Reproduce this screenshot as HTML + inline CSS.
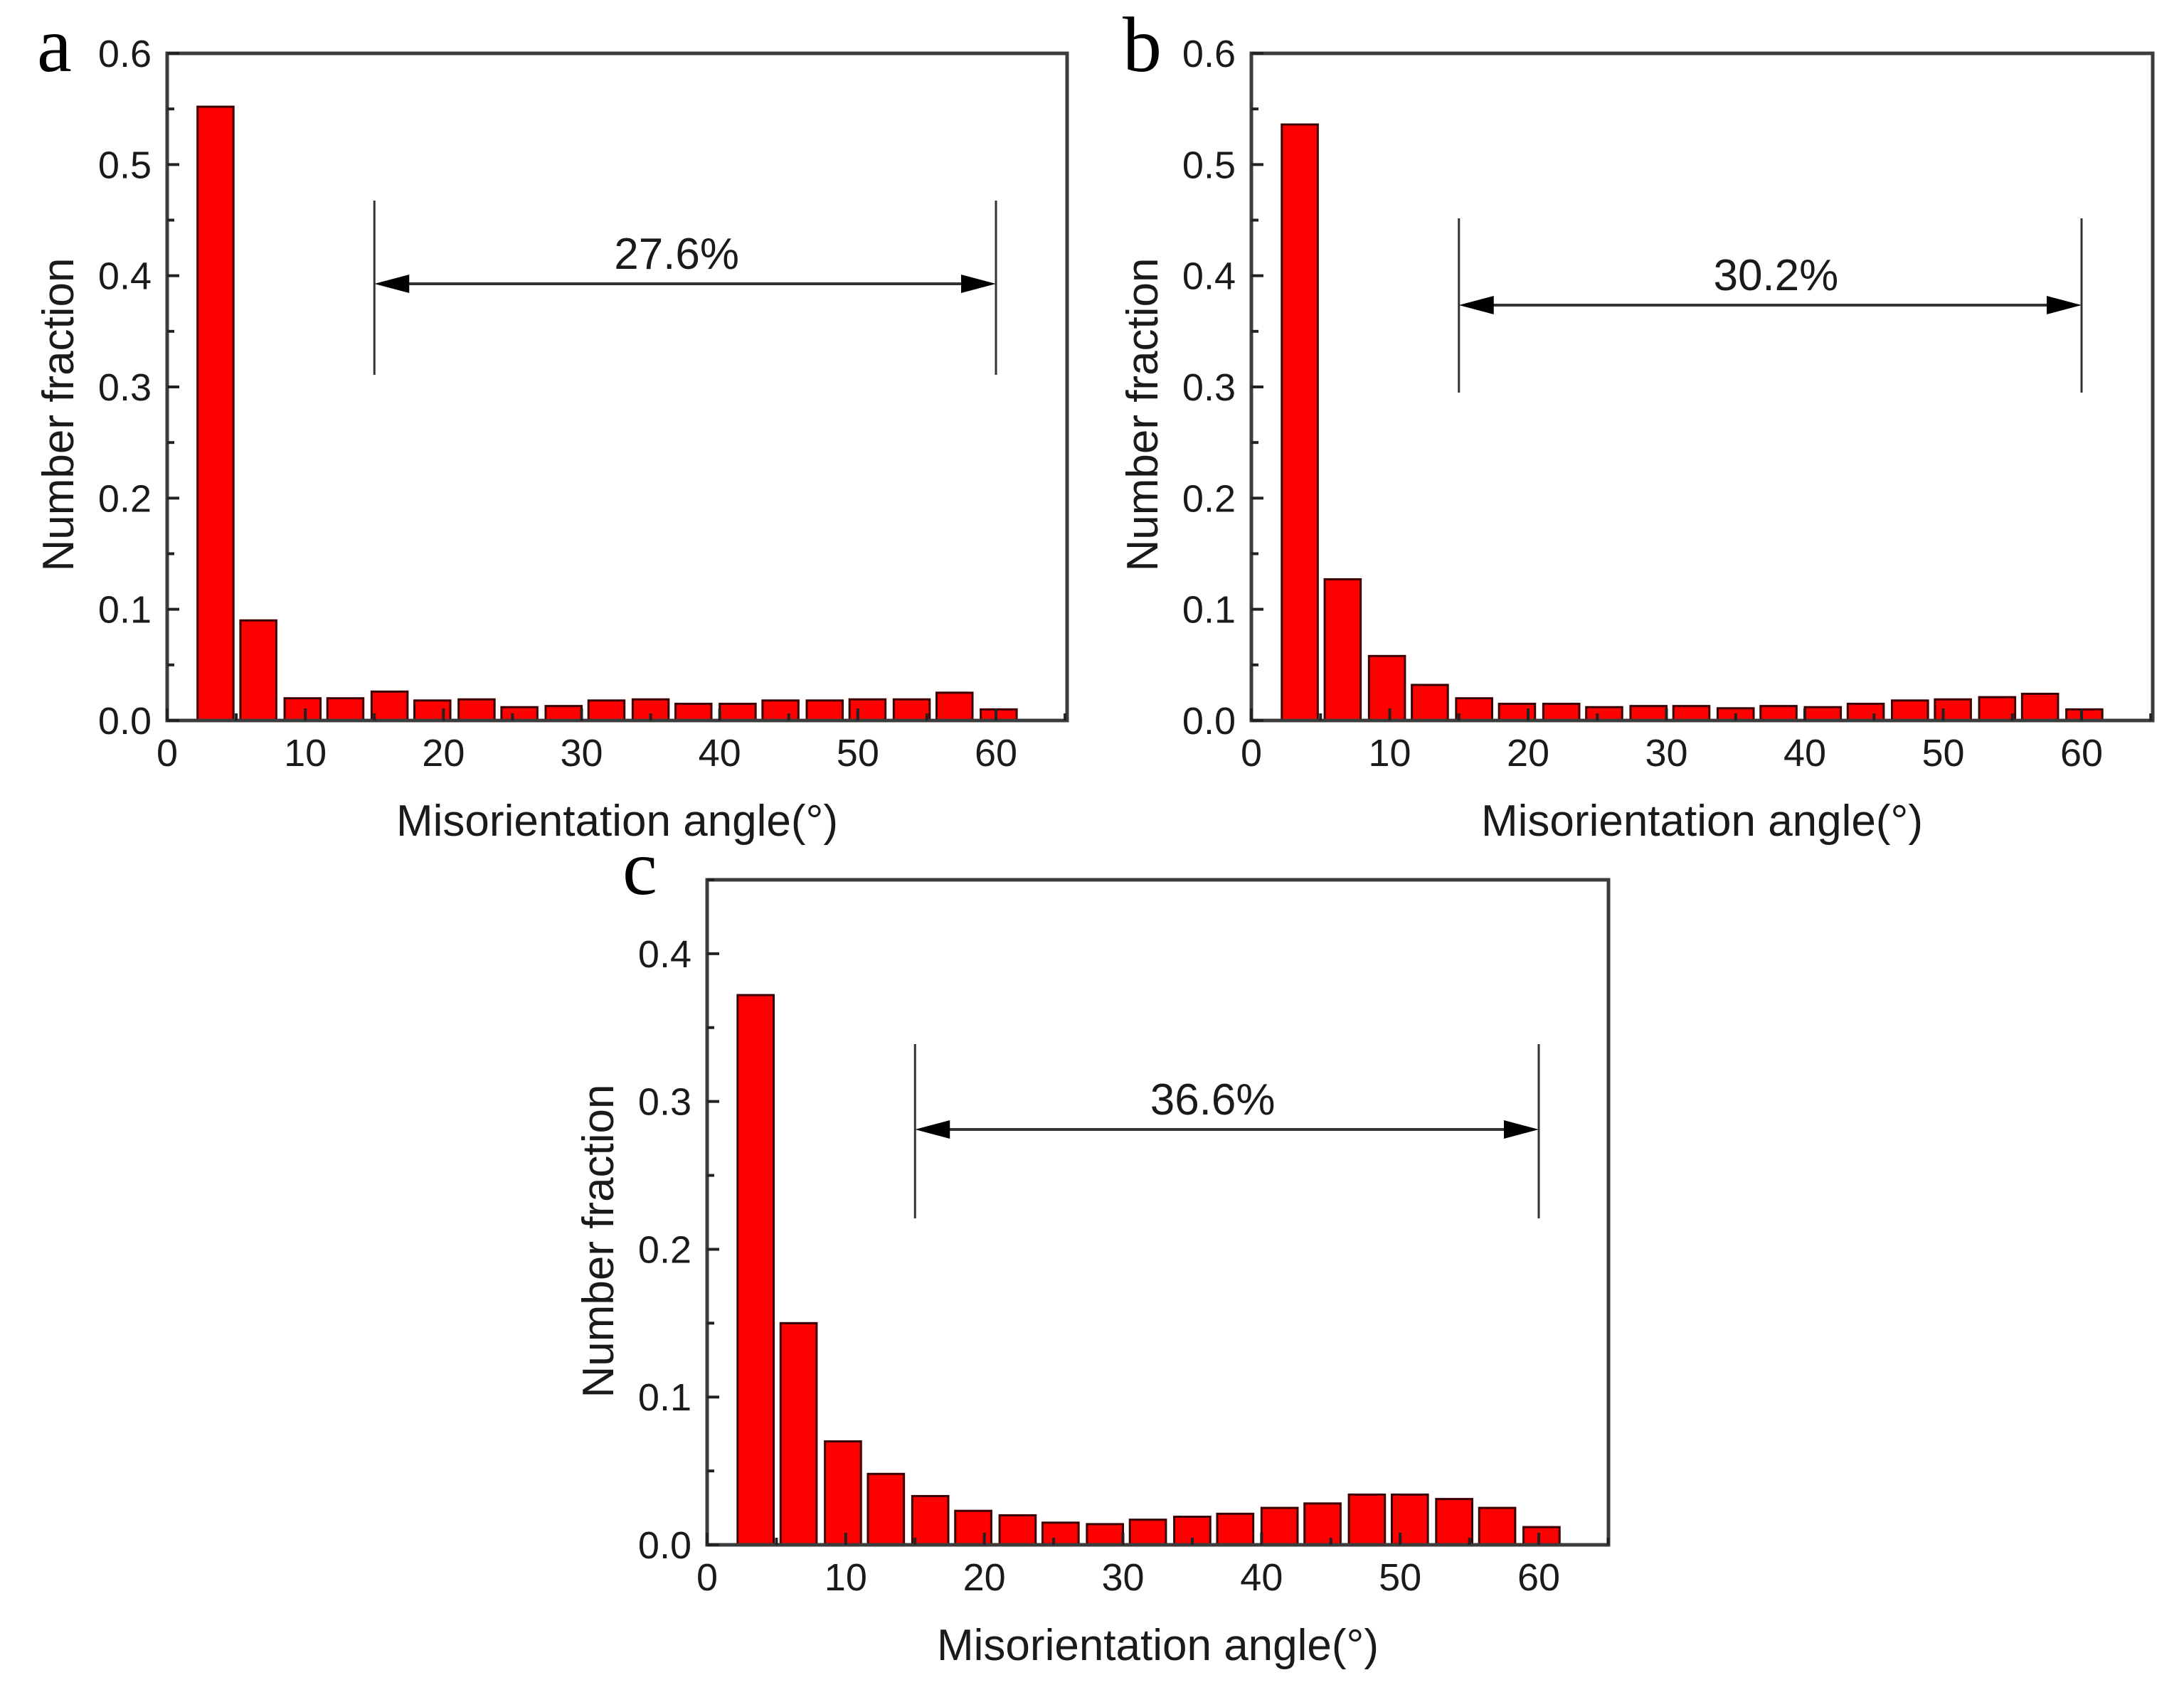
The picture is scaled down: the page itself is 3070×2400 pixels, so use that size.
<!DOCTYPE html>
<html><head><meta charset="utf-8">
<style>
html,body{margin:0;padding:0;background:#fff;}
svg{display:block;}
text{font-family:"Liberation Sans",Arial,sans-serif;fill:#1a1a1a;}
.pl{font-family:"Liberation Serif","Times New Roman",serif;fill:#000;}
</style></head>
<body>
<svg id="fig" width="3070" height="2400" viewBox="0 0 3070 2400" xmlns="http://www.w3.org/2000/svg"></svg>
<script>
const angles = [3.5,6.6,9.8,12.9,16.1,19.2,22.4,25.5,28.7,31.8,35,38.1,41.3,44.4,47.6,50.7,53.9,57,60.2];
const valuesA = [0.552,0.090,0.020,0.020,0.026,0.018,0.019,0.012,0.013,0.018,0.019,0.015,0.015,0.018,0.018,0.019,0.019,0.025,0.010];
const valuesB = [0.536,0.127,0.058,0.032,0.020,0.015,0.015,0.012,0.013,0.013,0.011,0.013,0.012,0.015,0.018,0.019,0.021,0.024,0.010];
const valuesC = [0.372,0.150,0.070,0.048,0.033,0.023,0.020,0.015,0.014,0.017,0.019,0.021,0.025,0.028,0.034,0.034,0.031,0.025,0.012];
const xTicks = [0,10,20,30,40,50,60];
const yTicksAB = ["0.0","0.1","0.2","0.3","0.4","0.5","0.6"];
const yTicksC = ["0.0","0.1","0.2","0.3","0.4"];
const rangeLabels = ["27.6%","30.2%","36.6%"];
const rangeStart = 15, rangeEnd = 60;

const NS="http://www.w3.org/2000/svg";
const svg=document.getElementById('fig');
function mk(tag,attrs,parent){const e=document.createElementNS(NS,tag);for(const k in attrs)e.setAttribute(k,attrs[k]);(parent||svg).appendChild(e);return e;}

function panel(p){
  const g=mk('g',{});
  
  
  const X=v=>p.x0+(v-0)*(p.x60-p.x0)/60;
  const Y=v=>p.y0-v*(p.y0-p.yTop)/p.ymax;
  const bw=2.6;
  p.vals.forEach((v,i)=>{
    const r=mk('rect',{x:X(angles[i]-bw/2),y:Y(v),width:X(bw)-X(0),height:p.y0-Y(v),fill:'#ff0000',stroke:'#3a0000','stroke-width':3},g);
    
    
  });
  const fr=mk('rect',{x:p.x0,y:p.yTop,width:p.xR-p.x0,height:p.y0-p.yTop,fill:'none',stroke:'#3c3c3c','stroke-width':5},g);
  
  
  for(let v=0;v<=65;v+=5){
    const len=(v%10===0)?17:10;
    mk('line',{x1:X(v),x2:X(v),y1:p.y0,y2:p.y0-len,stroke:'#222','stroke-width':4},g);
  }
  xTicks.forEach(v=>{
    const t=mk('text',{x:X(v),y:p.y0+64,'text-anchor':'middle','font-size':54},g);
    t.textContent=v;
    
    
  });
  const nHalf=Math.round(p.ymax/0.05);
  for(let k=0;k<=nHalf;k++){
    const v=k*0.05; const len=(k%2===0)?17:10;
    mk('line',{x1:p.x0,x2:p.x0+len,y1:Y(v),y2:Y(v),stroke:'#222','stroke-width':4},g);
  }
  p.yLabels.forEach((s,i)=>{
    const t=mk('text',{x:p.x0-22,y:Y(i*0.1)+19,'text-anchor':'end','font-size':54},g);
    t.textContent=s;
    
    
  });
  const xt=mk('text',{x:(p.x0+p.xR)/2,y:p.y0+162,'text-anchor':'middle','font-size':62},g);
  xt.textContent='Misorientation angle(°)';
  
  
  const yt=mk('text',{x:0,y:0,'text-anchor':'middle','font-size':62,transform:`translate(${p.x0-132},${p.yTitle}) rotate(-90)`},g);
  yt.textContent='Number fraction';
  
  
  const pl=mk('text',{x:p.lx,y:p.ly,'font-size':110,class:'pl'},g);
  pl.textContent=p.id;
  
  
  const a=mk('g',{},g);
  
  
  const xs=X(rangeStart), xe=X(rangeEnd);
  mk('line',{x1:xs,x2:xs,y1:p.aTop,y2:p.aTop+245,stroke:'#333','stroke-width':3},a);
  mk('line',{x1:xe,x2:xe,y1:p.aTop,y2:p.aTop+245,stroke:'#333','stroke-width':3},a);
  mk('line',{x1:xs+40,x2:xe-40,y1:p.aY,y2:p.aY,stroke:'#333','stroke-width':4},a);
  mk('polygon',{points:`${xs},${p.aY} ${xs+49},${p.aY-13} ${xs+49},${p.aY+13}`,fill:'#000'},a);
  mk('polygon',{points:`${xe},${p.aY} ${xe-49},${p.aY-13} ${xe-49},${p.aY+13}`,fill:'#000'},a);
  const at=mk('text',{x:(xs+xe)/2+p.tdx,y:p.aY-21,'text-anchor':'middle','font-size':62},a);
  at.textContent=p.label;
  
  
}

panel({id:'a',vals:valuesA,yLabels:yTicksAB,ymax:0.6,x0:235,x60:1400,xR:1500,yTop:75,y0:1013,yTitle:583,lx:52,ly:100,aTop:282,aY:399,label:rangeLabels[0],tdx:-12});
panel({id:'b',vals:valuesB,yLabels:yTicksAB,ymax:0.6,x0:1759,x60:2926,xR:3026,yTop:75,y0:1013,yTitle:583,lx:1578,ly:100,aTop:307,aY:429,label:rangeLabels[1],tdx:8});
panel({id:'c',vals:valuesC,yLabels:yTicksC,ymax:0.45,x0:994,x60:2163,xR:2261,yTop:1237,y0:2172,yTitle:1745,lx:875,ly:1257,aTop:1468,aY:1588,label:rangeLabels[2],tdx:-20});
</script>
</body></html>
